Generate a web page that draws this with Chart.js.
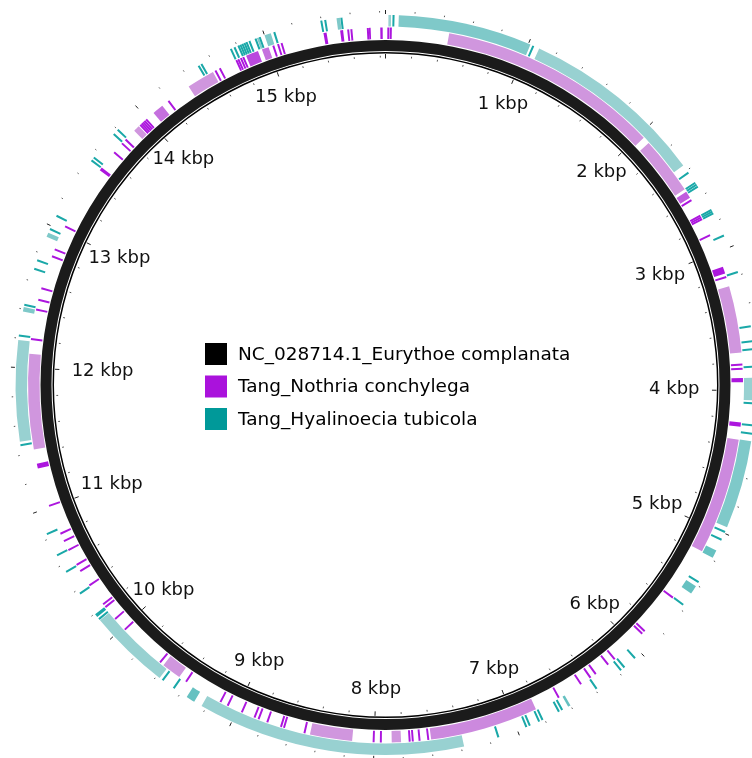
<!DOCTYPE html>
<html>
<head>
<meta charset="utf-8">
<script src="https://cdn.jsdelivr.net/npm/chart.js@4.4.1/dist/chart.umd.min.js"></script>
<style>
  html, body { margin: 0; padding: 0; background: #ffffff; }
  #wrap { width: 752px; height: 758px; position: relative; }
</style>
</head>
<body>
<div id="wrap"><canvas id="ring" width="752" height="758"></canvas></div>
<script>
// Circular BLAST comparison of two mitogenomes against NC_028714.1
const genomeLength = 15840;            // bp
const referenceName = 'NC_028714.1_Eurythoe complanata';
const queryNames = ['Tang_Nothria conchylega', 'Tang_Hyalinoecia tubicola'];
const tickStep = 200;                  // minor ticks, bp
const labelStep = 1000;                // labelled ticks, bp
const tickLabels = [1, 2, 3, 4, 5, 6, 7, 8, 9, 10, 11, 12, 13, 14, 15].map(k => k + ' kbp');

// Hits: [start bp, end bp, identity %]
const nothriaHits = [
  [15, 25, 100], [30, 45, 100], [452, 2035, 80], [2085, 2500, 80], [2520, 2570, 89],
  [2585, 2595, 100], [2712, 2720, 100], [2725, 2733, 100], [2738, 2748, 100], [2865, 2875, 100],
  [3110, 3160, 100], [3180, 3192, 100], [3255, 3730, 80], [3810, 3822, 100], [3840, 3850, 100],
  [3910, 3940, 100], [4225, 4255, 100], [4347, 5180, 82], [5561, 5571, 100], [5870, 5880, 100],
  [5895, 5905, 100], [6160, 6170, 100], [6220, 6230, 100], [6330, 6340, 100], [6375, 6385, 100],
  [6456, 6466, 100], [6639, 6649, 100], [6825, 7597, 82], [7612, 7622, 100], [7674, 7684, 100],
  [7722, 7732, 100], [7744, 7754, 100], [7810, 7876, 80], [7948, 7958, 100], [7999, 8009, 100],
  [8156, 8457, 80], [8492, 8502, 100], [8641, 8651, 100], [8663, 8673, 100], [8765, 8775, 100],
  [8830, 8840, 100], [8861, 8871, 100], [8958, 8968, 100], [9068, 9078, 100], [9125, 9135, 100],
  [9406, 9418, 100], [9470, 9610, 80], [9635, 9645, 100], [9975, 9985, 100], [10077, 10087, 100],
  [10185, 10195, 100], [10210, 10220, 100], [10375, 10385, 100], [10495, 10505, 100], [10545, 10555, 100],
  [10665, 10675, 100], [10735, 10745, 100], [10793, 10803, 100], [11005, 11015, 100], [11285, 11320, 100],
  [11422, 12100, 80], [12200, 12210, 100], [12412, 12422, 100], [12482, 12492, 100], [12566, 12576, 100],
  [12804, 12814, 100], [12856, 12866, 100], [13034, 13044, 100], [13505, 13528, 100], [13662, 13672, 100],
  [13745, 13757, 100], [13780, 13795, 100], [13875, 13920, 80], [13930, 13938, 100], [13944, 13952, 100],
  [13958, 13966, 100], [13972, 13980, 100], [13986, 13996, 100], [14060, 14140, 86], [14190, 14200, 100],
  [14370, 14570, 80], [14585, 14595, 100], [14620, 14630, 100], [14750, 14760, 100], [14766, 14774, 100],
  [14786, 14794, 100], [14804, 14812, 100], [14830, 14920, 92], [14950, 15000, 86], [15030, 15040, 100],
  [15065, 15075, 100], [15091, 15101, 100], [15400, 15422, 100], [15519, 15540, 100], [15570, 15582, 100],
  [15592, 15605, 100], [15710, 15720, 100], [15723, 15733, 100], [15803, 15820, 100]
];

const hyalinoeciaHits = [
  [20, 38, 80], [50, 60, 100], [91, 1015, 84], [1030, 1042, 100], [1080, 2358, 80],
  [2414, 2424, 100], [2496, 2508, 100], [2511, 2523, 100], [2526, 2540, 100], [2712, 2722, 100],
  [2725, 2735, 100], [2738, 2750, 100], [2905, 2917, 100], [3172, 3184, 100], [3553, 3563, 100],
  [3655, 3665, 100], [3710, 3720, 100], [3830, 3840, 100], [3910, 4065, 80], [4080, 4090, 100],
  [4231, 4241, 100], [4288, 4298, 100], [4344, 4955, 84], [4985, 4995, 100], [5043, 5053, 100],
  [5130, 5185, 88], [5372, 5382, 100], [5410, 5470, 88], [5558, 5568, 100], [6049, 6059, 100],
  [6145, 6155, 100], [6175, 6185, 100], [6384, 6394, 100], [6600, 6618, 88], [6660, 6670, 100],
  [6685, 6695, 100], [6810, 6820, 100], [6835, 6845, 100], [6905, 6915, 100], [6930, 6940, 100],
  [7133, 7143, 100], [7380, 9232, 80], [9290, 9350, 88], [9452, 9462, 100], [9545, 9555, 100],
  [9576, 10142, 80], [10148, 10158, 100], [10172, 10195, 100], [10365, 10375, 100], [10540, 10550, 100],
  [10669, 10679, 100], [10829, 10839, 100], [11463, 11473, 100], [11492, 12188, 80], [12212, 12226, 100],
  [12385, 12415, 84], [12425, 12437, 100], [12681, 12691, 100], [12742, 12752, 100], [12920, 12950, 84],
  [12972, 12982, 100], [13073, 13083, 100], [13520, 13530, 100], [13545, 13555, 100], [13755, 13765, 100],
  [13795, 13805, 100], [14500, 14510, 100], [14522, 14532, 100], [14748, 14758, 100], [14775, 14785, 100],
  [14805, 14813, 100], [14820, 14828, 100], [14835, 14843, 100], [14850, 14858, 100], [14865, 14873, 100],
  [14885, 14895, 100], [14930, 14940, 100], [14945, 14958, 84], [14960, 14970, 100], [15000, 15045, 84],
  [15065, 15075, 100], [15395, 15405, 100], [15422, 15432, 100], [15505, 15530, 84], [15532, 15545, 100]
];

// colour ramps (low identity -> high identity)
const nothriaLow = [208, 150, 222], nothriaHigh = [172, 22, 222];
const hyalLow = [152, 209, 209], hyalHigh = [26, 168, 168];
const legendColors = ['#000000', '#aa12dc', '#009999'];
const clear = 'rgba(0,0,0,0)';
const minHitWidth = 14;   // very short hits are widened to stay visible

function shade(low, high, ident) {
  const t = Math.max(0, Math.min(1, (ident - 80) / 20));
  const c = low.map((v, i) => Math.round(v + (high[i] - v) * t));
  return 'rgb(' + c.join(',') + ')';
}

// turn hit list into consecutive arc lengths with transparent gaps
function ringSegments(hits, low, high) {
  const data = [], colors = [];
  let pos = 0;
  hits.slice().sort((a, b) => a[0] - b[0]).forEach(([s, e, id]) => {
    if (e - s < minHitWidth) {
      const mid = (s + e) / 2;
      s = mid - minHitWidth / 2;
      e = mid + minHitWidth / 2;
    }
    if (s > pos) { data.push(s - pos); colors.push(clear); }
    const st = Math.max(s, pos);
    if (e > st) { data.push(e - st); colors.push(shade(low, high, id)); pos = e; }
  });
  if (pos < genomeLength) { data.push(genomeLength - pos); colors.push(clear); }
  return { data, colors };
}

const hyalRing = ringSegments(hyalinoeciaHits, hyalLow, hyalHigh);
const nothRing = ringSegments(nothriaHits, nothriaLow, nothriaHigh);

const outerR = 370, innerR = 331.5;
function ring(label, data, colors, weight) {
  return { label, data, backgroundColor: colors, weight, borderWidth: 0, hoverOffset: 0, clip: false };
}

const datasets = [
  ring(queryNames[1], hyalRing.data, hyalRing.colors, 11.5),
  ring('gap1', [genomeLength], [clear], 1),
  ring(queryNames[0], nothRing.data, nothRing.colors, 11.5),
  ring('gap2', [genomeLength], [clear], 1),
  ring(referenceName, [genomeLength], ['#1b1b1b'], 11),
  ring('gap3', [genomeLength], [clear], 1),
  ring('backbone', [genomeLength], ['#000000'], 1.5)
];

const decorations = {
  id: 'decorations',
  afterDatasetsDraw(chart) {
    const ctx = chart.ctx;
    const arc = chart.getDatasetMeta(6).data[0];
    const cx = arc.x, cy = arc.y;
    const rIn = arc.innerRadius;
    const rOut = chart.getDatasetMeta(0).data[0].outerRadius;
    const ang = bp => bp / genomeLength * Math.PI * 2;
    ctx.save();
    ctx.lineWidth = 1;
    for (let bp = 0; bp < genomeLength; bp += tickStep) {
      const major = bp % labelStep === 0;
      const t = ang(bp), ux = Math.sin(t), uy = -Math.cos(t);
      const seg = (a, b) => {
        ctx.beginPath();
        ctx.moveTo(cx + a * ux, cy + a * uy);
        ctx.lineTo(cx + b * ux, cy + b * uy);
        ctx.stroke();
      };
      ctx.strokeStyle = major ? '#222' : '#555';
      if (major) { seg(rIn - 5, rIn - 0.5); seg(rOut + 1, rOut + 5); }
      else { seg(rIn - 4, rIn - 2.2); seg(rOut + 2.5, rOut + 4); }
    }
    // kbp labels placed just inside the backbone
    ctx.font = '18px "DejaVu Sans"';
    ctx.fillStyle = '#111';
    ctx.textAlign = 'center';
    ctx.textBaseline = 'middle';
    tickLabels.forEach((txt, i) => {
      const bp = (i + 1) * labelStep;
      const t = ang(bp);
      const w = ctx.measureText(txt).width;
      const s = Math.abs(Math.sin(t));
      const d = rIn - 27.5 - Math.max(0, w / 2 - 10) * Math.pow(s, 8);
      ctx.fillText(txt, cx + d * Math.sin(t), cy - d * Math.cos(t));
    });
    // legend in the centre
    const names = [referenceName].concat(queryNames);
    ctx.font = '18.5px "DejaVu Sans"';
    ctx.textAlign = 'left';
    names.forEach((n, i) => {
      const y = cy - 42 + i * 32.5;
      ctx.fillStyle = legendColors[i];
      ctx.fillRect(cx - 180.5, y, 22, 22);
      ctx.fillStyle = '#000';
      ctx.fillText(n, cx - 147.5, y + 12);
    });
    ctx.restore();
  }
};

new Chart(document.getElementById('ring'), {
  type: 'doughnut',
  data: { labels: hyalRing.data.map((_, i) => i), datasets },
  options: {
    responsive: false,
    animation: false,
    radius: outerR,
    cutout: (innerR / outerR * 100) + '%',
    rotation: 0,
    circumference: 360,
    layout: { padding: { left: 19, top: 12, right: 0, bottom: 0 } },
    plugins: { legend: { display: false }, tooltip: { enabled: false } },
    events: []
  },
  plugins: [decorations]
});
</script>
</body>
</html>
